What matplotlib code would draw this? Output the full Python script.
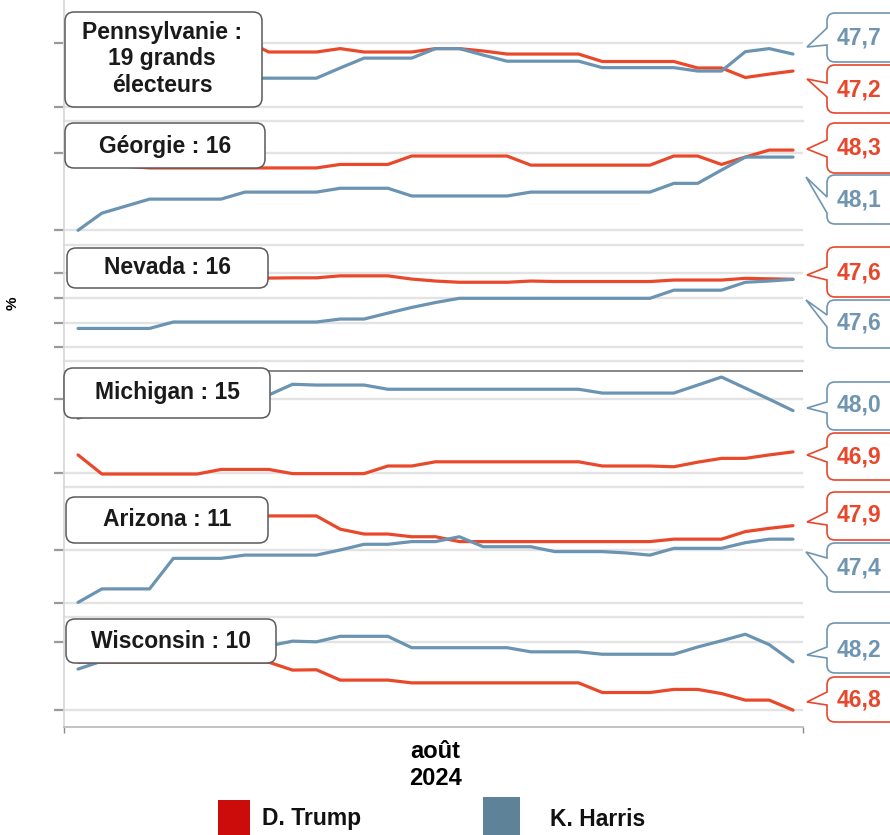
import matplotlib
matplotlib.use("Agg")
import matplotlib.pyplot as plt
from matplotlib.patches import FancyBboxPatch, PathPatch, Rectangle
from matplotlib.path import Path

plt.rcParams['font.family'] = ['Liberation Sans', 'DejaVu Sans']

# ---------------- data ----------------
days = list(range(1, 32))  # août 2024

panel_titles = ["Pennsylvanie :\n19 grands\nélecteurs", "Géorgie : 16", "Nevada : 16",
                "Michigan : 15", "Arizona : 11", "Wisconsin : 10"]

trump_pa = [48.11, 48.11, 48.11, 48.11, 48.11, 48.11, 48.11, 48.11, 47.76, 47.76, 47.76, 47.86, 47.76, 47.76, 47.76,
            47.86, 47.86, 47.79, 47.70, 47.70, 47.70, 47.70, 47.48, 47.48, 47.48, 47.48, 47.29, 47.29, 47.01, 47.11, 47.20]
harris_pa = [46.99, 46.99, 46.99, 46.99, 46.99, 46.99, 46.99, 46.99, 46.99, 46.99, 46.99, 47.29, 47.58, 47.58, 47.58,
             47.86, 47.86, 47.67, 47.49, 47.49, 47.49, 47.49, 47.30, 47.30, 47.30, 47.30, 47.20, 47.20, 47.77, 47.86, 47.70]

trump_ga = [48.01, 47.96, 47.84, 47.79, 47.79, 47.79, 47.79, 47.79, 47.79, 47.79, 47.79, 47.89, 47.89, 47.89, 48.13,
            48.13, 48.13, 48.13, 48.13, 47.87, 47.87, 47.87, 47.87, 47.87, 47.87, 48.13, 48.13, 47.89, 48.10, 48.30, 48.30]
harris_ga = [46.01, 46.50, 46.70, 46.90, 46.90, 46.90, 46.90, 47.10, 47.10, 47.10, 47.10, 47.21, 47.21, 47.21, 46.99,
             46.99, 46.99, 46.99, 46.99, 47.10, 47.10, 47.10, 47.10, 47.10, 47.10, 47.35, 47.35, 47.73, 48.10, 48.10, 48.10]

trump_nv = [47.64, 47.64, 47.64, 47.64, 47.64, 47.64, 47.64, 47.64, 47.64, 47.65, 47.65, 47.73, 47.73, 47.73, 47.60,
            47.52, 47.47, 47.47, 47.47, 47.52, 47.50, 47.50, 47.50, 47.50, 47.50, 47.56, 47.56, 47.56, 47.63, 47.61, 47.59]
harris_nv = [45.60, 45.60, 45.60, 45.60, 45.86, 45.86, 45.86, 45.86, 45.86, 45.86, 45.86, 45.98, 45.98, 46.22, 46.45,
             46.65, 46.82, 46.82, 46.82, 46.82, 46.82, 46.82, 46.82, 46.82, 46.82, 47.15, 47.15, 47.15, 47.47, 47.52, 47.59]

trump_mi = [46.84, 46.34, 46.34, 46.34, 46.34, 46.34, 46.46, 46.46, 46.46, 46.35, 46.35, 46.35, 46.35, 46.55, 46.55,
            46.66, 46.66, 46.66, 46.66, 46.66, 46.66, 46.66, 46.55, 46.55, 46.55, 46.53, 46.65, 46.75, 46.75, 46.84, 46.92]
harris_mi = [47.80, 48.01, 48.14, 48.27, 48.33, 48.38, 48.41, 48.41, 48.41, 48.69, 48.67, 48.67, 48.67, 48.56, 48.56,
             48.56, 48.56, 48.56, 48.56, 48.56, 48.56, 48.56, 48.46, 48.46, 48.46, 48.46, 48.67, 48.88, 48.59, 48.30, 48.00]

trump_az = [48.26, 48.26, 48.26, 48.26, 48.26, 48.26, 48.26, 48.26, 48.26, 48.26, 48.26, 47.77, 47.59, 47.59, 47.49,
            47.49, 47.31, 47.31, 47.31, 47.31, 47.31, 47.31, 47.31, 47.31, 47.31, 47.40, 47.40, 47.40, 47.68, 47.80, 47.90]
harris_az = [45.06, 45.56, 45.56, 45.56, 46.69, 46.69, 46.69, 46.81, 46.81, 46.81, 46.81, 47.00, 47.21, 47.21, 47.31,
             47.31, 47.49, 47.12, 47.12, 47.12, 46.94, 46.94, 46.94, 46.89, 46.81, 47.06, 47.06, 47.06, 47.27, 47.40, 47.40]

trump_wi = [48.19, 48.19, 48.19, 48.19, 48.19, 48.19, 48.19, 48.19, 48.19, 47.96, 47.97, 47.67, 47.67, 47.67, 47.59,
            47.59, 47.59, 47.59, 47.59, 47.59, 47.59, 47.59, 47.31, 47.31, 47.31, 47.40, 47.40, 47.28, 47.09, 47.09, 46.80]
harris_wi = [47.99, 48.22, 48.39, 48.48, 48.54, 48.60, 48.63, 48.66, 48.66, 48.80, 48.78, 48.94, 48.94, 48.94, 48.61,
             48.61, 48.61, 48.61, 48.61, 48.49, 48.49, 48.49, 48.42, 48.42, 48.42, 48.42, 48.63, 48.81, 49.00, 48.70, 48.20]

trump_series = [trump_pa, trump_ga, trump_nv, trump_mi, trump_az, trump_wi]
harris_series = [harris_pa, harris_ga, harris_nv, harris_mi, harris_az, harris_wi]

legend_labels = ["D. Trump", "K. Harris"]
x_tick_label = "août\n2024"
y_label = "%"

# ---------------- layout / style ----------------
W, H = 890, 835
L, R = 64, 803
RED = '#e9492a'
BLUE = '#6b94b2'
RED_TXT = '#e8472b'
BLUE_TXT = '#6f95b1'
GRID = '#e3e3e3'

# panel pixel extents and y scales
panels = [
    dict(top=0,   bot=121, ylim=(45.73, 49.29), ticks=[46.14, 48.02]),
    dict(top=121, bot=245, ylim=(45.59, 49.13), ticks=[46.01, 48.21]),
    dict(top=245, bot=361, ylim=(44.28, 48.98), ticks=[44.85, 45.82, 46.83, 47.84]),
    dict(top=361, bot=487, ylim=(46.00, 49.30), ticks=[46.36, 48.30], ref=49.03),
    dict(top=487, bot=617, ylim=(44.52, 49.33), ticks=[45.04, 47.00]),
    dict(top=617, bot=727, ylim=(46.31, 49.50), ticks=[46.80, 48.77]),
]
title_boxes = [  # x0, y0, x1, y1, text center x, y
    (65, 12, 262, 107, 162, 59),
    (65, 123, 265, 168, 165, 146),
    (67, 248, 268, 288, 167, 268),
    (64, 368, 270, 418, 167, 393),
    (66, 497, 268, 543, 167, 520),
    (66, 619, 276, 663, 171, 642),
]
# callouts: (panel, series, y0, y1, tipx, tipy, base1, base2, text y)
callouts = [
    (0, 'h', 13, 62, 807, 47, 28, 45, 38),
    (0, 't', 65, 113, 807, 79, 83, 97, 90),
    (1, 't', 123, 173, 807, 149, 140, 157, 148),
    (1, 'h', 175, 224, 806, 177, 197, 213, 200),
    (2, 't', 247, 297, 807, 275, 267, 280, 273),
    (2, 'h', 300, 348, 806, 300, 315, 327, 323),
    (3, 'h', 382, 430, 807, 408, 402, 413, 405),
    (3, 't', 433, 480, 807, 455, 447, 462, 457),
    (4, 't', 492, 540, 807, 522, 512, 525, 515),
    (4, 'h', 543, 592, 806, 552, 558, 577, 568),
    (5, 'h', 623, 673, 807, 655, 647, 658, 650),
    (5, 't', 677, 722, 807, 702, 692, 705, 700),
]

fig = plt.figure(figsize=(W / 100, H / 100), dpi=100)
fig.patch.set_facecolor('white')

xlim = (0.41, 31.42)
for i, p in enumerate(panels):
    t, b = p['top'], p['bot']
    ax = fig.add_axes([L / W, 1 - b / H, (R - L) / W, (b - t) / H])
    ax.set_facecolor('none')
    ax.plot(days, trump_series[i], color=RED, lw=2.3, solid_joinstyle='round', solid_capstyle='round', zorder=3)
    ax.plot(days, harris_series[i], color=BLUE, lw=2.3, solid_joinstyle='round', solid_capstyle='round', zorder=3)
    if 'ref' in p:
        ax.axhline(p['ref'], color='#7d7d7d', lw=1.3, zorder=2)
    ax.set_xlim(*xlim)
    ax.set_ylim(*p['ylim'])
    ax.set_yticks(p['ticks'])
    ax.set_yticklabels([])
    ax.grid(axis='y', color=GRID, lw=1.7)
    ax.set_axisbelow(True)
    ax.tick_params(axis='y', length=7, width=1.6, color='#9a9a9a', direction='out')
    for s in ['top', 'right']:
        ax.spines[s].set_visible(False)
    ax.spines['left'].set_color('#d9d9d9')
    ax.spines['left'].set_linewidth(1.3)
    ax.spines['bottom'].set_color(GRID)
    ax.spines['bottom'].set_linewidth(1.7)
    if i < len(panels) - 1:
        ax.set_xticks([])
    else:
        ax.spines['bottom'].set_color('#bdbdbd')
        ax.spines['bottom'].set_linewidth(1.3)
        ax.set_xticks([16])
        ax.set_xticklabels([x_tick_label], fontsize=17, fontweight='bold', linespacing=1.25)
        ax.tick_params(axis='x', length=0, pad=9)
        ax.set_xticks([xlim[0] + 0.02, xlim[1] - 0.02], minor=True)
        ax.tick_params(axis='x', which='minor', length=4, width=1, color='#8a8a8a')

# overlay in pixel coordinates
ov = fig.add_axes([0, 0, 1, 1], zorder=10)
ov.set_xlim(0, W)
ov.set_ylim(H, 0)
ov.axis('off')
ov.patch.set_alpha(0)

ov.text(13, 303, y_label, rotation=90, fontsize=11, fontweight='bold', ha='center', va='center')

for (x0, y0, x1, y1, cx, cy), title in zip(title_boxes, panel_titles):
    ov.add_patch(FancyBboxPatch((x0, y0), x1 - x0, y1 - y0,
                                boxstyle="round,pad=0,rounding_size=9",
                                fc='white', ec='#5a5a5a', lw=1.1))
    ov.text(cx, cy, title, ha='center', va='center', fontsize=16.5, fontweight='bold',
            color='#1a1a1a', linespacing=1.2)


def bubble(y0, y1, tipx, tipy, b1, b2, color, x0=827, x1=905, r=8):
    verts = [(x0 + r, y0), (x1, y0), (x1, y1), (x0 + r, y1),
             (x0, y1), (x0, y1 - r),
             (x0, b2), (tipx, tipy), (x0, b1),
             (x0, y0 + r),
             (x0, y0), (x0 + r, y0),
             (x0 + r, y0)]
    codes = [Path.MOVETO, Path.LINETO, Path.LINETO, Path.LINETO,
             Path.CURVE3, Path.CURVE3,
             Path.LINETO, Path.LINETO, Path.LINETO,
             Path.LINETO,
             Path.CURVE3, Path.CURVE3,
             Path.CLOSEPOLY]
    ov.add_patch(PathPatch(Path(verts, codes), fc='white', ec=color, lw=1.2, clip_on=False))


for (pi, ser, y0, y1, tx, ty, b1, b2, text_y) in callouts:
    vals = trump_series[pi] if ser == 't' else harris_series[pi]
    color = RED_TXT if ser == 't' else BLUE_TXT
    bubble(y0, y1, tx, ty, b1, b2, color)
    ov.text(859, text_y, f"{vals[-1]:.1f}".replace('.', ','), ha='center', va='center',
            fontsize=16.5, fontweight='bold', color=color)

# legend
ov.add_patch(Rectangle((218, 800), 32, 40, fc='#cc0b0b', ec='none', clip_on=False))
ov.add_patch(Rectangle((483, 797), 37, 42, fc='#5e8399', ec='none', clip_on=False))
ov.text(262, 819, legend_labels[0], ha='left', va='center', fontsize=16.5, fontweight='bold', color='#111111')
ov.text(550, 819, legend_labels[1], ha='left', va='center', fontsize=16.5, fontweight='bold', color='#111111')

fig.savefig('out.png', dpi=100, facecolor='white')
